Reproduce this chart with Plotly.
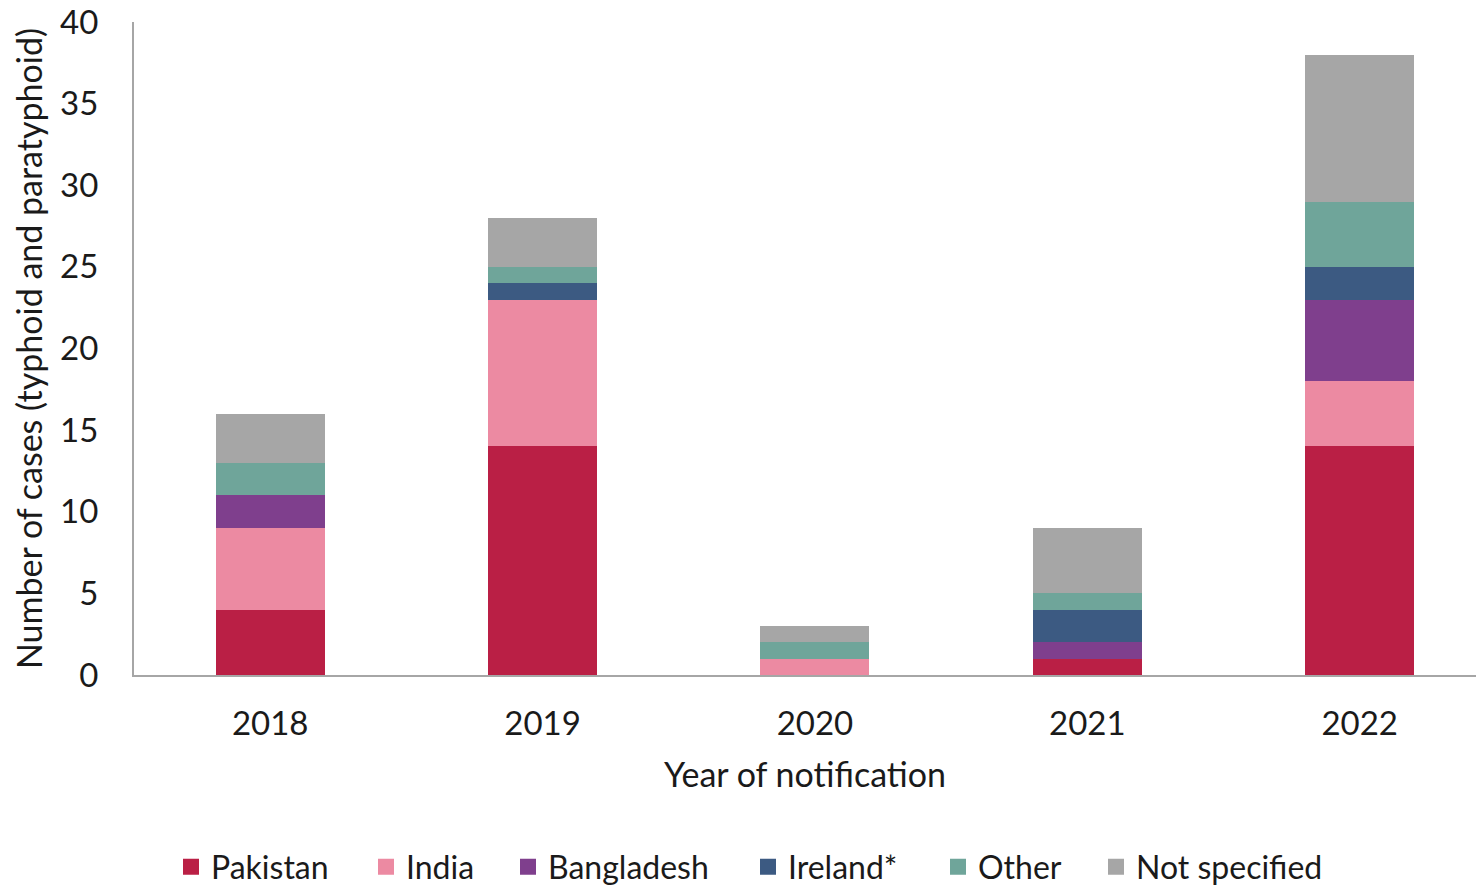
import plotly.graph_objects as go

years = ["2018", "2019", "2020", "2021", "2022"]
pakistan = [4, 14, 0, 1, 14]
india = [5, 9, 1, 0, 4]
bangladesh = [2, 0, 0, 1, 5]
ireland = [0, 1, 0, 2, 2]
other = [2, 1, 1, 1, 4]
not_specified = [3, 3, 1, 4, 9]

series = [
    ("Pakistan", pakistan, "#BA1F45"),
    ("India", india, "#EC8AA2"),
    ("Bangladesh", bangladesh, "#7F3F8D"),
    ("Ireland*", ireland, "#3C5A82"),
    ("Other", other, "#6FA59A"),
    ("Not specified", not_specified, "#A6A6A6"),
]

# left edge (px) of each legend entry along the bottom row
legend_left = [183, 378, 520, 760, 950, 1108]

FONT = "Lato, Carlito, Calibri, sans-serif"
W, H = 1476, 888

fig = go.Figure()
for i, (name, vals, color) in enumerate(series):
    fig.add_trace(go.Bar(
        x=years, y=vals, name=name,
        marker=dict(color=color, line=dict(width=0)),
        width=0.40, showlegend=False,
    ))

legend_layout = {}
for i, (name, vals, color) in enumerate(series):
    key = "legend" if i == 0 else f"legend{i + 1}"
    fig.add_trace(go.Scatter(
        x=[None], y=[None], mode="markers", name=name,
        marker=dict(symbol="square", size=17, color=color),
        legend=key, showlegend=True, hoverinfo="skip",
    ))
    legend_layout[key] = dict(
        orientation="h",
        x=(legend_left[i] - 12) / W, xanchor="left", xref="container",
        y=1 - 867 / H, yanchor="middle", yref="container",
        font=dict(size=32, family=FONT, color="#1a1a1a"),
        itemsizing="trace",
        bgcolor="rgba(0,0,0,0)",
    )

fig.update_layout(
    barmode="stack",
    width=W, height=H,
    margin=dict(l=134, r=0, t=22, b=213),
    paper_bgcolor="white",
    plot_bgcolor="white",
    font=dict(family=FONT, size=33, color="#1a1a1a"),
    showlegend=True,
    xaxis=dict(
        type="category",
        range=[-0.5, 4.427],
        showline=True, linecolor="#A6A6A6", linewidth=2,
        ticks="", ticklabelstandoff=18,
        tickfont=dict(size=33),
        title=dict(text="Year of notification", font=dict(size=34), standoff=23),
        showgrid=False, zeroline=False,
    ),
    yaxis=dict(
        range=[0, 40], dtick=5,
        showline=True, linecolor="#A6A6A6", linewidth=2,
        ticks="", ticklabelstandoff=27,
        tickfont=dict(size=33),
        title=dict(text="Number of cases (typhoid and paratyphoid)", font=dict(size=34), standoff=7),
        showgrid=False, zeroline=False,
    ),
    **legend_layout,
)

fig.write_html("out.html")
